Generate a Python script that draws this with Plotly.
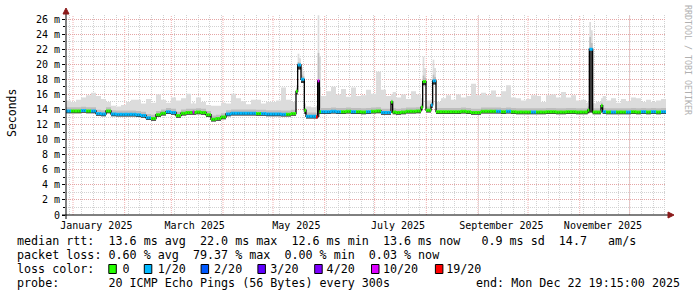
import numpy as np
import pandas as pd
import plotly.graph_objects as go

# ---------------- data ----------------
START = "2024-12-27 19:15"
END = "2025-12-22 19:15"
BIN_DAYS = 3

# median rtt per 3-day bin (ms)
median_ms = [
    13.8, 13.8, 13.8, 13.85, 13.8, 13.8, 13.45, 13.4, 13.8, 13.4,
    13.35, 13.35, 13.35, 13.35, 13.3, 13.2, 12.9, 12.8, 13.3, 13.5,
    13.7, 13.6, 13.2, 13.5, 13.6, 13.6, 13.65, 13.6, 13.3, 12.7,
    12.8, 13.0, 13.4, 13.5, 13.5, 13.5, 13.5, 13.5, 13.45, 13.45,
    13.4, 13.4, 13.4, 13.35, 13.35, 13.45, 13.5, 13.9, 13.1, 13.1,
    13.1, 13.7, 13.7, 13.75, 13.7, 13.7, 13.75, 13.7, 13.7, 13.65,
    13.7, 13.75, 13.8, 13.6, 13.6, 13.65, 13.6, 13.65, 13.75, 13.75,
    13.8, 13.9, 13.9, 13.8, 13.7, 13.7, 13.7, 13.7, 13.7, 13.75,
    13.7, 13.6, 13.6, 13.75, 13.75, 13.75, 13.75, 13.7, 13.75, 13.7,
    13.65, 13.65, 13.65, 13.65, 13.65, 13.65, 13.7, 13.7, 13.65, 13.65,
    13.7, 13.7, 13.65, 13.65, 13.65, 13.65, 13.65, 13.7, 13.65, 13.65,
    13.65, 13.65, 13.65, 13.7, 13.65, 13.7, 13.65, 13.7, 13.65, 13.7,
]
# top of the smoke (max ping) per bin (ms)
smoke_max_ms = [
    15.2, 15.0, 15.3, 15.6, 15.9, 16.2, 15.8, 15.4, 15.0, 14.5,
    14.4, 14.6, 15.0, 15.3, 15.3, 14.8, 15.4, 14.9, 16.0, 15.3,
    14.9, 15.6, 15.2, 15.5, 16.1, 14.8, 15.6, 15.0, 14.6, 14.5,
    14.5, 14.9, 14.8, 16.1, 15.5, 15.1, 14.7, 15.3, 15.3, 14.8,
    15.0, 15.0, 15.2, 16.9, 15.3, 15.0, 15.0, 15.0, 14.4, 14.3,
    14.4, 15.8, 16.4, 17.0, 16.0, 16.7, 15.7, 16.9, 15.8, 15.9,
    16.6, 16.1, 19.0, 16.6, 15.8, 16.3, 15.6, 16.0, 15.4, 16.4,
    16.0, 16.7, 15.2, 14.6, 15.0, 15.5, 15.9, 15.3, 16.0, 15.6,
    15.8, 17.4, 15.9, 16.2, 15.9, 16.5, 15.7, 16.4, 17.2, 15.6,
    15.5, 15.2, 15.4, 15.9, 15.8, 15.0, 15.9, 16.0, 15.6, 16.3,
    15.6, 15.9, 15.2, 15.3, 14.9, 14.8, 15.0, 15.8, 15.2, 15.5,
    14.9, 15.4, 15.1, 15.6, 15.5, 15.0, 15.3, 15.0, 15.2, 15.4,
]
# loss level per bin (index into loss_labels)
loss_idx = [
    1, 0, 0, 1, 0, 1, 1, 1, 0, 1,
    1, 1, 1, 1, 1, 1, 1, 0, 0, 0,
    1, 1, 0, 0, 0, 0, 0, 0, 0, 0,
    0, 0, 1, 1, 1, 1, 1, 1, 0, 1,
    1, 1, 1, 1, 0, 0, 0, 1, 1, 1,
    1, 1, 1, 1, 1, 0, 0, 1, 0, 0,
    1, 0, 0, 1, 1, 0, 0, 0, 0, 0,
    0, 0, 0, 1, 0, 0, 0, 0, 0, 0,
    0, 0, 0, 0, 0, 0, 1, 0, 1, 0,
    0, 0, 0, 1, 0, 0, 0, 0, 0, 0,
    0, 0, 0, 0, 0, 0, 0, 1, 0, 1,
    0, 0, 1, 0, 0, 1, 0, 1, 0, 1,
]

# single-day events (day number since START)
event_day  = [76, 138, 139, 140, 141, 142, 143, 150, 151, 152, 195, 213, 214, 215, 219, 220, 221, 313, 314, 315, 321]
event_lo   = [13.3, 16.0, 19.3, 19.3, 17.5, 17.5, 13.4, 12.8, 13.0, 13.4, 14.6, 13.9, 17.2, 17.2, 14.2, 17.3, 17.3, 13.5, 13.6, 13.6, 14.1]
event_med  = [13.65, 16.4, 19.9, 19.9, 18.0, 18.0, 13.9, 13.0, 17.8, 13.7, 15.0, 14.3, 17.7, 17.7, 14.6, 17.8, 17.8, 13.9, 22.0, 22.0, 14.5]
event_mid  = [14.1, 16.8, 20.3, 20.2, 18.6, 18.4, 14.2, 13.5, 21.5, 17.0, 15.3, 14.8, 18.5, 18.2, 15.0, 18.6, 18.3, 14.4, 23.6, 22.8, 14.9]
event_hi   = [15.0, 17.2, 21.4, 20.8, 19.6, 19.0, 14.8, 14.5, 26.5, 21.0, 16.0, 15.5, 21.0, 19.5, 15.4, 20.6, 19.5, 15.0, 25.6, 24.5, 15.5]
event_loss = [5, 0, 1, 1, 1, 1, 0, 6, 5, 0, 0, 0, 0, 0, 1, 1, 1, 0, 1, 1, 0]

loss_labels = ["0", "1/20", "2/20", "3/20", "4/20", "10/20", "19/20"]
loss_colors = ["#26ff00", "#00b8ff", "#0059ff", "#5e00ff", "#7e00ff", "#dd00ff", "#ff0000"]

y_tick_vals = [0, 2, 4, 6, 8, 10, 12, 14, 16, 18, 20, 22, 24, 26]
y_tick_text = ["0", "2 m", "4 m", "6 m", "8 m", "10 m", "12 m", "14 m", "16 m",
               "18 m", "20 m", "22 m", "24 m", "26 m"]
x_label_dates = ["2025-01-15", "2025-03-15", "2025-05-15", "2025-07-15", "2025-09-15", "2025-11-15"]
x_label_text = ["January 2025", "March 2025", "May 2025", "July 2025", "September 2025", "November 2025"]
month_starts = ["2025-01-01", "2025-02-01", "2025-03-01", "2025-04-01", "2025-05-01", "2025-06-01",
                "2025-07-01", "2025-08-01", "2025-09-01", "2025-10-01", "2025-11-01", "2025-12-01"]

legend_rows = [
    "median rtt:  13.6 ms avg  22.0 ms max  12.6 ms min  13.6 ms now   0.9 ms sd  14.7   am/s",
    "packet loss: 0.60 % avg  79.37 % max  0.00 % min  0.03 % now",
    "loss color:    0    1/20    2/20    3/20    4/20    10/20    19/20",
    "probe:       20 ICMP Echo Pings (56 Bytes) every 300s",
]
legend_box_cols = [13, 18, 26, 34, 42, 50, 59]
end_text = "end: Mon Dec 22 19:15:00 2025"

# ---------------- build daily step series ----------------
n_days = len(median_ms) * BIN_DAYS
start = pd.Timestamp(START)
edges = start + pd.to_timedelta(np.arange(n_days + 1), unit="D")

med = np.repeat(np.array(median_ms, float), BIN_DAYS)
hi = np.repeat(np.array(smoke_max_ms, float), BIN_DAYS)
loss = np.repeat(np.array(loss_idx, int), BIN_DAYS)
SMOKE_BELOW, SMOKE_CORE = 0.3, 0.5  # styling of the smoke band around the median
lo = med - SMOKE_BELOW
mid = med + SMOKE_CORE
for d, a, m, c, h, l in zip(event_day, event_lo, event_med, event_mid, event_hi, event_loss):
    lo[d], med[d], mid[d], hi[d], loss[d] = a, m, c, h, l


def step(v):
    return list(v) + [v[-1]]


xs = list(edges)
fig = go.Figure()
common = dict(x=xs, mode="lines", line_shape="hv", hoverinfo="skip", showlegend=False)
fig.add_trace(go.Scatter(y=step(lo), line=dict(width=0), **common))
fig.add_trace(go.Scatter(y=step(hi), line=dict(width=0), fill="tonexty", fillcolor="#dcdcdc", **common))
fig.add_trace(go.Scatter(y=step(lo), line=dict(width=0), **common))
fig.add_trace(go.Scatter(y=step(mid), line=dict(width=0), fill="tonexty", fillcolor="#bdbdbd", **common))
fig.add_trace(go.Scatter(y=step(lo), line=dict(width=0), **common))
fig.add_trace(go.Scatter(y=step(med), line=dict(width=0), fill="tonexty", fillcolor="#3a3a3a", **common))
fig.add_trace(go.Scatter(y=step(med), line=dict(width=1.3, color="#000000"), **common))

for k, col in enumerate(loss_colors):
    sx, sy = [], []
    for i in range(n_days):
        if loss[i] == k:
            sx += [edges[i], edges[i + 1], None]
            sy += [med[i], med[i], None]
    if sx:
        fig.add_trace(go.Scatter(x=sx, y=sy, mode="lines", line=dict(width=3, color=col),
                                 hoverinfo="skip", showlegend=False))

# ---------------- layout ----------------
W, H = 697, 297
L, R, T, B = 66, 31, 15, 82
PW, PH = W - L - R, H - T - B


def px(x):
    return (x - L) / PW


def py(y):
    return (H - B - y) / PH


MONO = "DejaVu Sans Mono"
MAJOR = "rgba(235,150,150,0.75)"
MINOR = "#d2d2d2"
DASH = "1px,1px"

shapes = []
for m in month_starts:
    shapes.append(dict(type="line", xref="x", yref="paper", x0=m, x1=m, y0=0, y1=1,
                       line=dict(color=MAJOR, width=1, dash=DASH), layer="between"))
# axes
shapes.append(dict(type="line", xref="paper", yref="paper", x0=px(66), x1=px(66), y0=py(219), y1=py(10),
                   line=dict(color="#000000", width=1), layer="above"))
shapes.append(dict(type="line", xref="paper", yref="paper", x0=px(62), x1=px(670), y0=py(215), y1=py(215),
                   line=dict(color="#000000", width=1), layer="above"))
ARROW = "#8b1a1a"
shapes.append(dict(type="path", xref="paper", yref="paper",
                   path=f"M {px(63)} {py(14)} L {px(69)} {py(14)} L {px(66)} {py(8)} Z",
                   fillcolor=ARROW, line=dict(color=ARROW, width=1), layer="above"))
shapes.append(dict(type="path", xref="paper", yref="paper",
                   path=f"M {px(668)} {py(212)} L {px(668)} {py(218)} L {px(674)} {py(215)} Z",
                   fillcolor=ARROW, line=dict(color=ARROW, width=1), layer="above"))

CW = 7.1
TX = 16
row_y = [241, 255, 269, 283]
for col, c in zip(legend_box_cols, loss_colors):
    x0 = TX + col * CW + 0.5
    shapes.append(dict(type="rect", xref="paper", yref="paper",
                       x0=px(x0), x1=px(x0 + 7.5), y0=py(273.5), y1=py(264.5),
                       fillcolor=c, line=dict(color="#000000", width=1), layer="above"))

annotations = []
for txt, yy in zip(legend_rows, row_y):
    annotations.append(dict(text=txt.replace(" ", "\u00a0"), xref="paper", yref="paper",
                            x=px(TX - 1), y=py(yy), xanchor="left", yanchor="middle",
                            showarrow=False, font=dict(family=MONO, size=11.7, color="#000000")))
annotations.append(dict(text=end_text.replace(" ", "\u00a0"), xref="paper", yref="paper",
                        x=px(682), y=py(283), xanchor="right", yanchor="middle",
                        showarrow=False, font=dict(family=MONO, size=11.7, color="#000000")))
annotations.append(dict(text="Seconds", xref="paper", yref="paper", x=px(12), y=py(113),
                        xanchor="center", yanchor="middle", textangle=-90, showarrow=False,
                        font=dict(family=MONO, size=11.5, color="#000000")))
annotations.append(dict(text="RRDTOOL / TOBI OETIKER".replace(" ", "\u00a0"), xref="paper", yref="paper",
                        x=px(688), y=py(60), xanchor="center", yanchor="middle", textangle=90,
                        showarrow=False, font=dict(family=MONO, size=8.3, color="#b0b0b0")))

fig.update_layout(
    width=W, height=H, autosize=False,
    margin=dict(l=L, r=R, t=T, b=B, pad=0),
    paper_bgcolor="#ffffff", plot_bgcolor="#ffffff",
    shapes=shapes, annotations=annotations,
    xaxis=dict(type="date", range=[START, END], tickmode="array",
               tickvals=x_label_dates, ticktext=x_label_text,
               ticks="", showgrid=False, zeroline=False, showline=False,
               ticklabelstandoff=3,
               tickfont=dict(family=MONO, size=10, color="#000000"),
               minor=dict(dtick=7 * 86400000, tick0="2024-12-30", showgrid=True,
                          gridcolor=MINOR, griddash=DASH, gridwidth=1)),
    yaxis=dict(range=[0, 26.53], tickmode="array", tickvals=y_tick_vals, ticktext=y_tick_text,
               ticks="outside", ticklen=3, tickcolor="#000000",
               showgrid=True, gridcolor=MAJOR, griddash=DASH, gridwidth=1,
               zeroline=False, showline=False,
               tickfont=dict(family=MONO, size=10, color="#000000"),
               minor=dict(dtick=1, tick0=0, showgrid=True, gridcolor=MINOR, griddash=DASH,
                          ticks="outside", ticklen=2, tickcolor="#000000")),
)

fig.write_html("out.html")
